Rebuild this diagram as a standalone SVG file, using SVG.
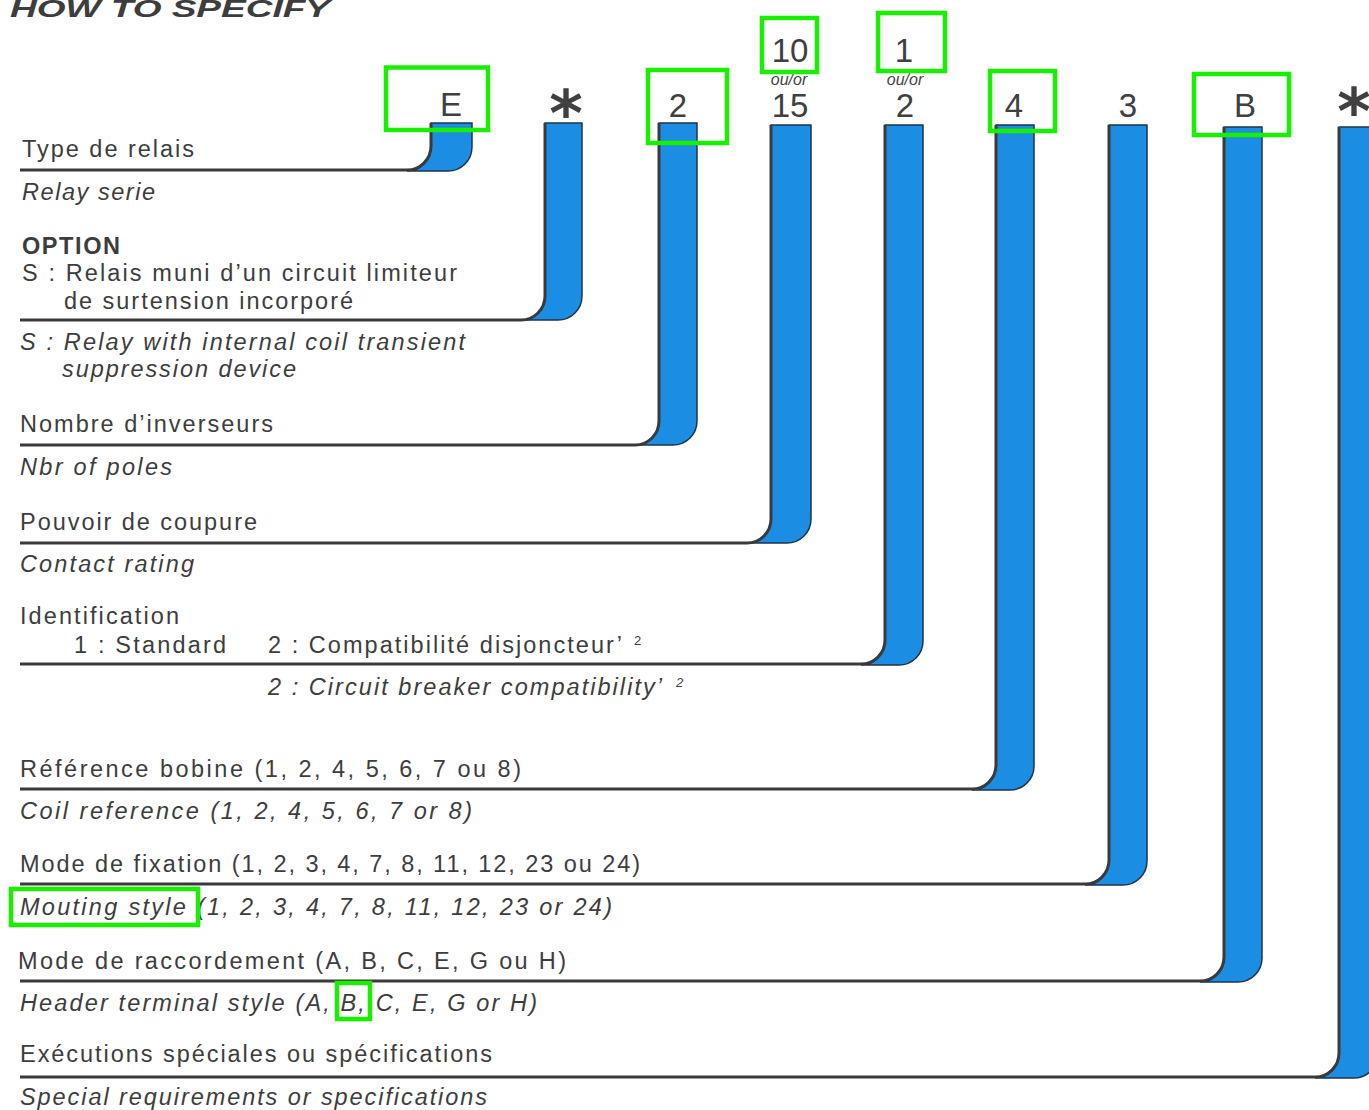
<svg xmlns="http://www.w3.org/2000/svg" width="1369" height="1110" viewBox="0 0 1369 1110">
<style>
.t{font-family:"Liberation Sans",Arial,sans-serif;font-size:23.5px;fill:#3d3d3d}
.i{font-style:italic}
.b{font-weight:bold}
.lbl{font-family:"Liberation Sans",Arial,sans-serif;font-size:33px;fill:#404040;text-anchor:middle}
.ast{font-family:"DejaVu Sans",sans-serif;font-size:64px;font-weight:bold;fill:#404040;text-anchor:middle}
.oo{font-family:"Liberation Sans",Arial,sans-serif;font-size:16px;fill:#454545;text-anchor:middle;font-style:italic}
.sup{font-family:"Liberation Sans",Arial,sans-serif;font-size:13px;fill:#3d3d3d}
.bar{fill:#1b8de2;stroke:#1e3550;stroke-width:1.5}
.ln{fill:none;stroke:#3a3a3a;stroke-width:3;stroke-linecap:butt}
.hl{fill:none;stroke:#19f000;stroke-width:4.5}
</style>
<rect width="1369" height="1110" fill="#ffffff"/>
<text class="t i b" x="10" y="17" font-size="34" textLength="320" lengthAdjust="spacingAndGlyphs">HOW TO SPECIFY</text>

<g id="connectors">
  <path class="bar" d="M431,123 H472 V147 A24 24 0 0 1 448,171 H407 A24 24 0 0 0 431,146 Z"/>
  <path class="ln" d="M20,170 H407 A24 24 0 0 0 431,146 V123"/>
  <path class="bar" d="M545,123 H582 V296 A24 24 0 0 1 558,320 H521 A24 24 0 0 0 545,296 Z"/>
  <path class="ln" d="M20,320 H521 A24 24 0 0 0 545,296 V123"/>
  <path class="bar" d="M659,123 H697 V421 A24 24 0 0 1 673,445 H635 A24 24 0 0 0 659,421 Z"/>
  <path class="ln" d="M20,445 H635 A24 24 0 0 0 659,421 V123"/>
  <path class="bar" d="M771,125 H811 V519 A24 24 0 0 1 787,543 H747 A24 24 0 0 0 771,519 Z"/>
  <path class="ln" d="M20,543 H747 A24 24 0 0 0 771,519 V125"/>
  <path class="bar" d="M885,125 H923 V641 A24 24 0 0 1 899,665 H861 A24 24 0 0 0 885,641 Z"/>
  <path class="ln" d="M20,664 H861 A24 24 0 0 0 885,640 V125"/>
  <path class="bar" d="M996,125 H1034 V766 A24 24 0 0 1 1010,790 H972 A24 24 0 0 0 996,766 Z"/>
  <path class="ln" d="M20,789 H972 A24 24 0 0 0 996,765 V125"/>
  <path class="bar" d="M1109,125 H1147 V861 A24 24 0 0 1 1123,885 H1085 A24 24 0 0 0 1109,861 Z"/>
  <path class="ln" d="M20,884 H1085 A24 24 0 0 0 1109,860 V125"/>
  <path class="bar" d="M1224,127 H1262 V958 A24 24 0 0 1 1238,982 H1200 A24 24 0 0 0 1224,958 Z"/>
  <path class="ln" d="M20,981 H1200 A24 24 0 0 0 1224,957 V127"/>
  <path class="bar" d="M1339,127 H1378 V1054 A24 24 0 0 1 1354,1078 H1315 A24 24 0 0 0 1339,1054 Z"/>
  <path class="ln" d="M20,1077 H1315 A24 24 0 0 0 1339,1053 V127"/>
</g>

<g id="code-E"><text class="lbl" x="451" y="116">E</text></g>
<g id="code-S"><text class="ast" x="566" y="136">*</text></g>
<g id="code-2"><text class="lbl" x="678" y="117">2</text></g>
<g id="code-10-15">
  <text class="lbl" x="790" y="62">10</text>
  <text class="oo" x="789" y="85">ou/or</text>
  <text class="lbl" x="790" y="117">15</text>
</g>
<g id="code-1-2">
  <text class="lbl" x="904" y="62">1</text>
  <text class="oo" x="905" y="85">ou/or</text>
  <text class="lbl" x="905" y="117">2</text>
</g>
<g id="code-4"><text class="lbl" x="1014" y="117">4</text></g>
<g id="code-3"><text class="lbl" x="1128" y="117">3</text></g>
<g id="code-B"><text class="lbl" x="1245" y="117">B</text></g>
<g id="code-X"><text class="ast" x="1354" y="134">*</text></g>

<g id="field-type">
  <text class="t" x="22" y="157" textLength="172" lengthAdjust="spacing">Type de relais</text>
  <text class="t i" x="22" y="200" textLength="133" lengthAdjust="spacing">Relay serie</text>
</g>
<g id="field-option">
  <text class="t" x="22" y="254" textLength="98" lengthAdjust="spacing" font-weight="bold">OPTION</text>
  <text class="t" x="22" y="281" textLength="435" lengthAdjust="spacing">S : Relais muni d’un circuit limiteur</text>
  <text class="t" x="64" y="309" textLength="289" lengthAdjust="spacing">de surtension incorporé</text>
  <text class="t i" x="20" y="350" textLength="445" lengthAdjust="spacing">S : Relay with internal coil transient</text>
  <text class="t i" x="62" y="377" textLength="234" lengthAdjust="spacing">suppression device</text>
</g>
<g id="field-poles">
  <text class="t" x="20" y="432" textLength="253" lengthAdjust="spacing">Nombre d’inverseurs</text>
  <text class="t i" x="20" y="475" textLength="152" lengthAdjust="spacing">Nbr of poles</text>
</g>
<g id="field-rating">
  <text class="t" x="20" y="530" textLength="237" lengthAdjust="spacing">Pouvoir de coupure</text>
  <text class="t i" x="20" y="572" textLength="174" lengthAdjust="spacing">Contact rating</text>
</g>
<g id="field-ident">
  <text class="t" x="20" y="624" textLength="159" lengthAdjust="spacing">Identification</text>
  <text class="t" x="74" y="653" textLength="152" lengthAdjust="spacing">1 : Standard</text>
  <text class="t" x="268" y="653" textLength="354" lengthAdjust="spacing">2 : Compatibilité disjoncteur’</text>
  <text class="sup" x="634" y="645">2</text>
  <text class="t i" x="268" y="695" textLength="394" lengthAdjust="spacing">2 : Circuit breaker compatibility’</text>
  <text class="sup i" x="676" y="687">2</text>
</g>
<g id="field-coil">
  <text class="t" x="20" y="777" textLength="501" lengthAdjust="spacing">Référence bobine (1, 2, 4, 5, 6, 7 ou 8)</text>
  <text class="t i" x="20" y="819" textLength="452" lengthAdjust="spacing">Coil reference (1, 2, 4, 5, 6, 7 or 8)</text>
</g>
<g id="field-mounting">
  <text class="t" x="20" y="872" textLength="620" lengthAdjust="spacing">Mode de fixation (1, 2, 3, 4, 7, 8, 11, 12, 23 ou 24)</text>
  <text class="t i" x="20" y="915" textLength="592" lengthAdjust="spacing">Mouting style (1, 2, 3, 4, 7, 8, 11, 12, 23 or 24)</text>
</g>
<g id="field-terminal">
  <text class="t" x="18" y="969" textLength="548" lengthAdjust="spacing">Mode de raccordement (A, B, C, E, G ou H)</text>
  <text class="t i" x="20" y="1011" textLength="517" lengthAdjust="spacing">Header terminal style (A, B, C, E, G or H)</text>
</g>
<g id="field-special">
  <text class="t" x="20" y="1062" textLength="472" lengthAdjust="spacing">Exécutions spéciales ou spécifications</text>
  <text class="t i" x="20" y="1105" textLength="467" lengthAdjust="spacing">Special requirements or specifications</text>
</g>

<g id="highlights">
  <rect class="hl" x="386" y="67.5" width="102" height="62.5"/>
  <rect class="hl" x="648" y="70" width="79" height="73"/>
  <rect class="hl" x="762" y="18" width="55" height="54"/>
  <rect class="hl" x="878" y="13" width="67" height="58"/>
  <rect class="hl" x="990" y="71" width="65" height="60"/>
  <rect class="hl" x="1194" y="74" width="95" height="61"/>
  <rect class="hl" x="11" y="889" width="187" height="36"/>
  <rect class="hl" x="337" y="983" width="33" height="36"/>
</g>
</svg>
